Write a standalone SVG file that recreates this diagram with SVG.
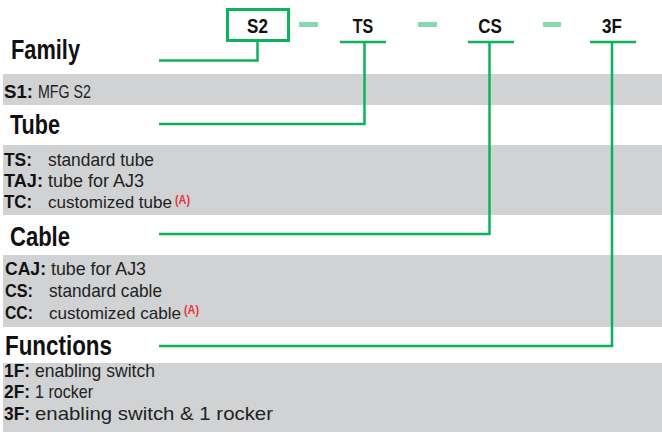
<svg xmlns="http://www.w3.org/2000/svg" width="662" height="432" viewBox="0 0 662 432">
<style>
.band{fill:#d1d2d4}
.h{font-family:"Liberation Sans",Arial,sans-serif;font-weight:bold;font-size:27px;fill:#111}
.code{font-family:"Liberation Sans",Arial,sans-serif;font-weight:bold;font-size:20px;fill:#111;text-anchor:middle}
.b{font-family:"Liberation Sans",Arial,sans-serif;font-weight:bold;font-size:19px;fill:#111}
.r{font-family:"Liberation Sans",Arial,sans-serif;font-size:19px;fill:#222}
.r.s{font-size:17px}
.sup{font-family:"Liberation Sans",Arial,sans-serif;font-weight:bold;font-size:12px;fill:#e8343f}
.ln{fill:none;stroke:#0db35a;stroke-width:2.5}
.dash{fill:#86d9ac}
</style>
<rect width="662" height="432" fill="#fff"/>
<g id="bands">
<rect class="band" x="3" y="74" width="659" height="31"/>
<rect class="band" x="3" y="145" width="659" height="70"/>
<rect class="band" x="3" y="255" width="659" height="72"/>
<rect class="band" x="3" y="363" width="659" height="69"/>
</g>
<g id="code">
<g id="S2">
<rect x="227.5" y="9.5" width="61" height="31" fill="none" stroke="#0db35a" stroke-width="3"/>
<text class="code" transform="translate(257.5,33) scale(0.85,1)">S2</text>
</g>
<rect class="dash" x="299" y="22" width="19" height="5"/>
<g id="TS"><text class="code" transform="translate(363,33) scale(0.8,1)">TS</text></g>
<rect class="dash" x="418" y="22" width="19" height="5"/>
<g id="CS"><text class="code" transform="translate(490,33) scale(0.85,1)">CS</text></g>
<rect class="dash" x="543" y="22" width="18" height="5"/>
<g id="3F"><text class="code" transform="translate(612,33) scale(0.85,1)">3F</text></g>
</g>
<g id="family">
<text class="h" x="11" y="59" textLength="69" lengthAdjust="spacingAndGlyphs">Family</text>
<text class="b" x="4" y="98" textLength="29" lengthAdjust="spacingAndGlyphs">S1:</text>
<text class="r" x="38" y="98" textLength="53" lengthAdjust="spacingAndGlyphs">MFG S2</text>
</g>
<g id="tube">
<text class="h" x="10" y="134" textLength="50" lengthAdjust="spacingAndGlyphs">Tube</text>
<text class="b" x="4" y="166" textLength="28" lengthAdjust="spacingAndGlyphs">TS:</text>
<text class="r" x="48" y="166" textLength="106" lengthAdjust="spacingAndGlyphs">standard tube</text>
<text class="b" x="4" y="187" textLength="39" lengthAdjust="spacingAndGlyphs">TAJ:</text>
<text class="r" x="48" y="187" textLength="96" lengthAdjust="spacingAndGlyphs">tube for AJ3</text>
<text class="b" x="4" y="208" textLength="28" lengthAdjust="spacingAndGlyphs">TC:</text>
<text class="r s" x="48" y="208" textLength="124" lengthAdjust="spacingAndGlyphs">customized tube</text>
<text class="sup" x="175" y="204" textLength="15" lengthAdjust="spacingAndGlyphs">(A)</text>
</g>
<g id="cable">
<text class="h" x="10" y="246" textLength="60" lengthAdjust="spacingAndGlyphs">Cable</text>
<text class="b" x="5" y="275" textLength="41" lengthAdjust="spacingAndGlyphs">CAJ:</text>
<text class="r" x="51" y="275" textLength="95" lengthAdjust="spacingAndGlyphs">tube for AJ3</text>
<text class="b" x="5" y="297" textLength="28" lengthAdjust="spacingAndGlyphs">CS:</text>
<text class="r" x="49" y="297" textLength="113" lengthAdjust="spacingAndGlyphs">standard cable</text>
<text class="b" x="5" y="319" textLength="28" lengthAdjust="spacingAndGlyphs">CC:</text>
<text class="r s" x="49" y="319" textLength="132" lengthAdjust="spacingAndGlyphs">customized cable</text>
<text class="sup" x="184" y="314" textLength="15" lengthAdjust="spacingAndGlyphs">(A)</text>
</g>
<g id="functions">
<text class="h" x="5" y="355" textLength="107" lengthAdjust="spacingAndGlyphs">Functions</text>
<text class="b" x="4" y="377" textLength="26" lengthAdjust="spacingAndGlyphs">1F:</text>
<text class="r" x="35" y="377" textLength="120" lengthAdjust="spacingAndGlyphs">enabling switch</text>
<text class="b" x="4" y="398" textLength="26" lengthAdjust="spacingAndGlyphs">2F:</text>
<text class="r" x="35" y="398" textLength="58" lengthAdjust="spacingAndGlyphs">1 rocker</text>
<text class="b" x="4" y="420" textLength="26" lengthAdjust="spacingAndGlyphs">3F:</text>
<text class="r" x="35" y="420" textLength="238" lengthAdjust="spacingAndGlyphs">enabling switch &amp; 1 rocker</text>
</g>
<g id="connectors">
<polyline class="ln" points="257.5,41 257.5,60.5 159,60.5"/>
<line class="ln" x1="340" y1="42" x2="386" y2="42"/>
<polyline class="ln" points="364.5,42 364.5,124 159,124"/>
<line class="ln" x1="468" y1="42" x2="514" y2="42"/>
<polyline class="ln" points="489.5,42 489.5,234 159,234"/>
<line class="ln" x1="590" y1="42" x2="636" y2="42"/>
<polyline class="ln" points="612,42 612,346 159,346"/>
</g>
</svg>
